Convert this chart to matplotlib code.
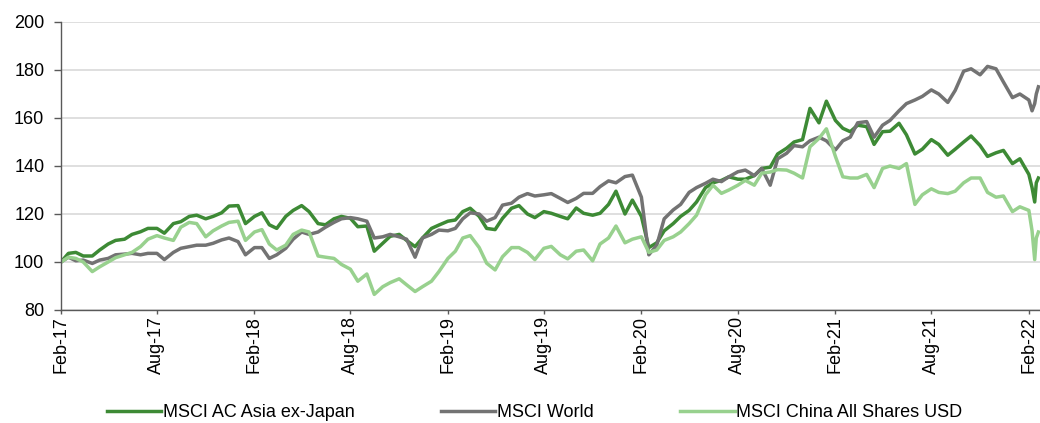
import pandas as pd
import matplotlib
matplotlib.use("Agg")
import matplotlib.pyplot as plt
import matplotlib.dates as mdates
from matplotlib import font_manager

#%% data, semi-monthly from Feb-17, plus a few points at the end
dates = list(pd.date_range("2017-02-01", "2022-02-01", freq="SMS"))
dates += list(pd.to_datetime(["2022-02-07", "2022-02-12", "2022-02-15", "2022-02-19"]))

asia_ex_japan = [
    100, 103.6, 104, 102.5, 102.5, 105, 107.5, 109, 109.5, 111.5,
    112.6, 114, 114, 112, 116, 116.8, 119, 119.5, 118, 119,
    120.5, 123.3, 123.5, 116, 119, 120.5, 115.5, 114, 119, 121.5,
    123.5, 121, 116, 115.5, 118, 119, 118.2, 114.7, 115, 104.5,
    107.8, 110.7, 111.5, 109, 106.4, 110, 114, 115.4, 117, 117.5,
    121, 122.4, 119, 114, 113.5, 118.2, 122.4, 123.5, 120, 118.5,
    121, 120.3, 119, 118, 122.5, 120.3, 119.5, 120.3, 124, 129.5,
    120, 125.8, 119, 106, 108, 113, 116, 119, 121.5, 125,
    131, 133, 134, 135.5, 134.5, 134.5, 136, 139, 139.5, 145,
    147.4, 150, 151, 164, 158, 167, 159, 155.7, 154.3, 157,
    156.4, 149, 154.3, 154.5, 157.8, 153, 145, 147, 151, 149,
    144.5, 147, 150, 152.5, 148.5, 144, 145.5, 146.5, 141, 143,
    136.5, 131, 125, 133, 135,
]
msci_world = [
    100, 102, 100.5, 100.8, 99.4, 100.8, 101.5, 103, 103.3, 103.6,
    103, 103.6, 103.6, 101, 104, 105.7, 106.4, 107, 107, 107.8,
    109.2, 110, 108.5, 103, 106, 106, 101.5, 103, 105.7, 109.5,
    112.5, 111.5, 112.5, 114.5, 116.5, 118, 118.5, 118, 117, 110,
    110.5, 111.5, 110.5, 109.5, 102, 110, 111.5, 113.3, 113, 114,
    118, 120.5, 120, 117, 118.5, 123.7, 124.5, 127, 128.5, 127.5,
    128, 128.5, 126.5, 124.8, 126.5, 128.6, 128.6, 131.4, 133.8, 133,
    135.6, 136.2, 127, 103, 107, 118, 121.7, 124, 129, 131,
    132.8, 134.5, 133.5, 135.5, 137.6, 138.3, 136, 139, 132, 143,
    145.3, 148.5, 148, 150.5, 152, 150.5, 146.7, 150.5, 152, 158,
    158.5, 152, 157, 159, 163, 166, 167.5, 169, 171.7, 170,
    166.5, 171.5, 179.5, 180.5, 178, 181.5, 180.5, 175, 168.5, 170,
    167.5, 163, 166, 170, 173,
]
msci_china = [
    100, 102, 101.5, 100, 96, 98, 100, 101.8, 103, 104,
    106.4, 109.5, 111, 110, 109, 114.5, 116.5, 116, 110.5, 113,
    115, 116.5, 117, 109, 112.5, 113.5, 107.5, 105, 107, 111.5,
    113.3, 112.5, 102.5, 102, 101.5, 99, 97, 92, 95, 86.5,
    89.7, 91.4, 93, 90.5, 87.7, 89.7, 92, 96, 101.5, 104.5,
    110, 111, 106, 99.5, 96.7, 102.2, 106, 106, 104, 101,
    105.7, 106.5, 103, 101.3, 104.5, 105, 100.5, 107.5, 110, 115,
    108, 109.5, 110.5, 104, 105, 109, 110.5, 112.5, 116, 119.5,
    128, 132, 128.6, 130, 132, 134, 132, 137, 137.5, 138.5,
    138.3, 137, 135, 148, 151.5, 155.5, 144, 135.5, 135, 135,
    136.5, 131, 139, 140, 139, 141, 124, 128, 130.5, 129,
    128.5, 129.5, 133, 135, 135, 129, 127, 127.5, 121, 123,
    121.5, 113, 101, 110, 112.5,
]

labels = ["MSCI AC Asia ex-Japan", "MSCI World", "MSCI China All Shares USD"]
colors = ["#3d8a35", "#737373", "#98d18e"]

#%% font: narrow if we have it
names = {f.name for f in font_manager.fontManager.ttflist}
if "Liberation Sans Narrow" in names:
    plt.rcParams["font.family"] = ["Liberation Sans Narrow", "DejaVu Sans"]
    fs = 14
else:
    plt.rcParams["font.family"] = ["Liberation Sans", "DejaVu Sans"]
    fs = 13

#%% plot
fig = plt.figure(figsize=(10.4, 4.23), dpi=100)
ax = fig.add_axes([61 / 1040, 1 - 310 / 423, 979 / 1040, 288 / 423])

for series, label, color in zip([asia_ex_japan, msci_world, msci_china], labels, colors):
    ax.plot(dates, series, color=color, lw=2.5, label=label, solid_joinstyle="round")

ax.set_ylim(80, 200)
ax.set_yticks(range(80, 201, 20))
ax.set_xlim(pd.Timestamp("2017-02-01"), pd.Timestamp("2022-02-22"))
ax.xaxis.set_major_locator(mdates.MonthLocator(bymonth=[2, 8], bymonthday=1))
ax.xaxis.set_major_formatter(mdates.DateFormatter("%b-%y"))

ax.grid(axis="y", color="#d9d9d9", lw=1.2)
ax.set_axisbelow(True)
for side in ["top", "right"]:
    ax.spines[side].set_visible(False)
for side in ["left", "bottom"]:
    ax.spines[side].set_color("#595959")
    ax.spines[side].set_linewidth(1.0)

ax.tick_params(axis="y", length=5, width=1, color="#595959", pad=7, labelsize=fs)
ax.tick_params(axis="x", length=3, width=1, color="#595959", pad=1.5, labelsize=fs,
               labelrotation=90)

fig.legend(loc="center", bbox_to_anchor=(0.514, 0.024), ncol=3, frameon=False,
           fontsize=fs, handlelength=3.0, handletextpad=0.1, columnspacing=4.8)

fig.savefig("out.png", dpi=100)
